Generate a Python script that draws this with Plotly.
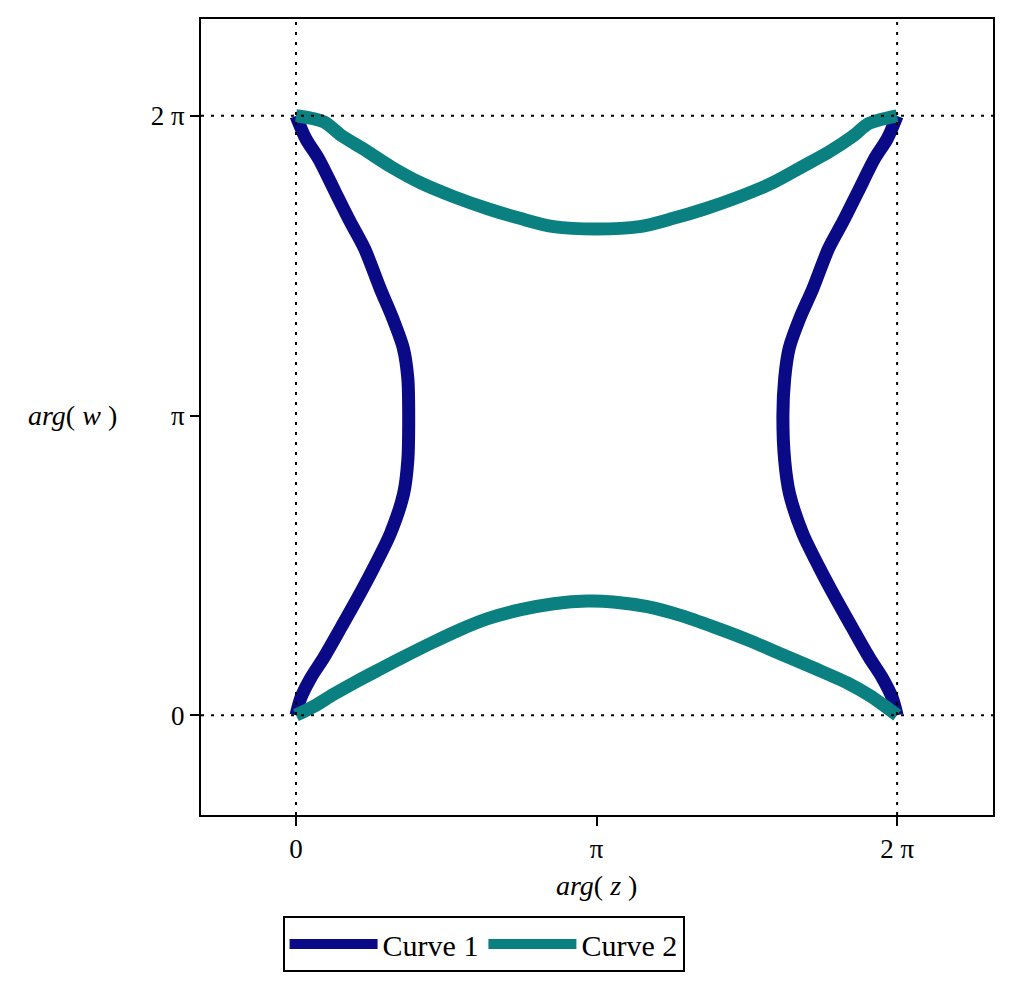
import plotly.graph_objects as go

# values are in units of pi
tick_vals = [0, 1, 2]
tick_text = ["0", "π", "2 π"]

# Curve 1: left branch (x = arg(z), y = arg(w))
c1_left_x = [0.0, 0.017, 0.050, 0.093, 0.150, 0.206, 0.259, 0.314, 0.358, 0.372, 0.375, 0.372,
             0.357, 0.322, 0.280, 0.228, 0.180, 0.130, 0.075, 0.033, 0.0]
c1_left_y = [0.0, 0.060, 0.126, 0.193, 0.293, 0.393, 0.493, 0.606, 0.739, 0.849, 1.0, 1.125,
             1.225, 1.324, 1.424, 1.557, 1.647, 1.747, 1.857, 1.923, 2.0]
# Curve 1: right branch
c1_right_x = [2.0, 1.983, 1.950, 1.907, 1.850, 1.794, 1.741, 1.686, 1.642, 1.626, 1.620, 1.626,
              1.641, 1.676, 1.720, 1.772, 1.820, 1.870, 1.925, 1.967, 2.0]
c1_right_y = [0.0, 0.060, 0.126, 0.193, 0.293, 0.393, 0.493, 0.606, 0.739, 0.849, 1.0, 1.125,
              1.225, 1.324, 1.424, 1.557, 1.647, 1.747, 1.857, 1.923, 2.0]

# Curve 2: bottom branch
c2_bot_x = [0.0, 0.060, 0.126, 0.206, 0.282, 0.359, 0.449, 0.538, 0.638, 0.748, 0.857, 0.970,
            1.056, 1.169, 1.279, 1.389, 1.502, 1.611, 1.721, 1.834, 1.910, 2.0]
c2_bot_y = [0.0, 0.030, 0.070, 0.115, 0.155, 0.195, 0.240, 0.282, 0.322, 0.352, 0.372, 0.381,
            0.378, 0.362, 0.333, 0.295, 0.252, 0.205, 0.158, 0.108, 0.065, 0.0]
# Curve 2: top branch
c2_top_x = [0.0, 0.093, 0.150, 0.226, 0.316, 0.415, 0.525, 0.638, 0.748, 0.857, 1.0,
            1.143, 1.252, 1.362, 1.475, 1.585, 1.684, 1.774, 1.850, 1.907, 2.0]
c2_top_y = [2.0, 1.980, 1.935, 1.888, 1.830, 1.776, 1.730, 1.690, 1.657, 1.630, 1.622,
            1.630, 1.657, 1.690, 1.730, 1.776, 1.830, 1.880, 1.930, 1.975, 2.0]

navy = "#0a0a86"
teal = "#0b8080"
serif = "Liberation Serif, Times New Roman, serif"

fig = go.Figure()
fig.add_trace(go.Scatter(
    x=c1_left_x + [None] + c1_right_x,
    y=c1_left_y + [None] + c1_right_y,
    mode="lines", name="Curve 1",
    line=dict(color=navy, width=13, shape="spline", smoothing=0.8),
    connectgaps=False,
))
fig.add_trace(go.Scatter(
    x=c2_bot_x + [None] + c2_top_x,
    y=c2_bot_y + [None] + c2_top_y,
    mode="lines", name="Curve 2",
    line=dict(color=teal, width=13, shape="spline", smoothing=0.8),
    connectgaps=False,
))

dot = dict(color="black", width=2, dash="3px,7px")
for v in [0, 2]:
    fig.add_shape(type="line", xref="x", yref="paper", x0=v, x1=v, y0=0, y1=1, line=dot, layer="above")
    fig.add_shape(type="line", xref="paper", yref="y", x0=0, x1=1, y0=v, y1=v, line=dot, layer="above")

axis_common = dict(
    tickvals=tick_vals, ticktext=tick_text,
    showgrid=False, zeroline=False,
    showline=True, linecolor="black", linewidth=2, mirror=True,
    ticks="outside", ticklen=9, tickwidth=2, tickcolor="black",
    tickfont=dict(family=serif, size=27, color="black"),
)

fig.update_layout(
    width=1024, height=986,
    margin=dict(l=193, r=39, t=9, b=179),
    paper_bgcolor="white", plot_bgcolor="white",
    xaxis=dict(range=[-0.316, 2.319], **axis_common),
    yaxis=dict(range=[-0.333, 2.323], **axis_common),
    showlegend=True,
    legend=dict(
        orientation="h", x=0.103, y=-0.127, xanchor="left", yanchor="top",
        bordercolor="black", borderwidth=2, bgcolor="white",
        font=dict(family=serif, size=30, color="black"),
        itemwidth=88, tracegroupgap=0,
    ),
    annotations=[
        dict(text="<i>arg</i>( <i>z</i> )", xref="x", yref="paper", x=1, y=-0.088,
             showarrow=False, font=dict(family=serif, size=28, color="black"),
             xanchor="center", yanchor="middle"),
        dict(text="<i>arg</i>( <i>w</i> )", xref="paper", yref="y", x=-0.162, y=1,
             showarrow=False, font=dict(family=serif, size=28, color="black"),
             xanchor="center", yanchor="middle"),
    ],
)

fig.write_html("out.html")
